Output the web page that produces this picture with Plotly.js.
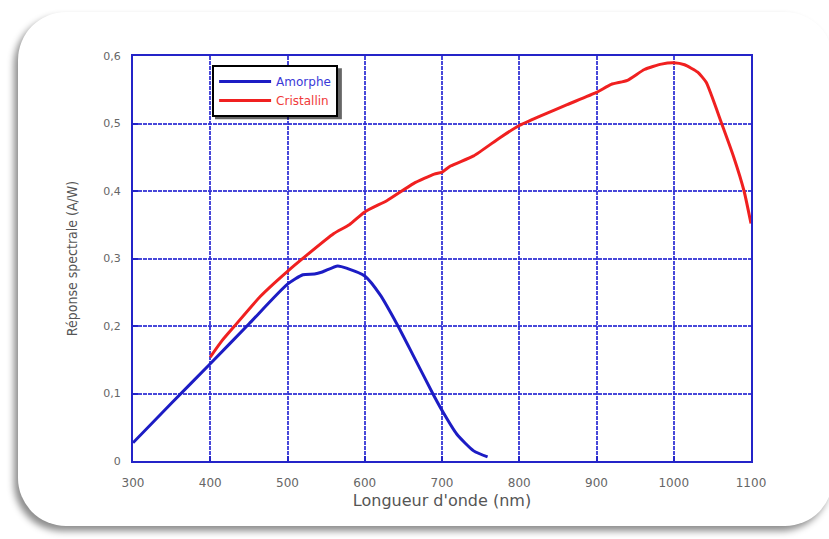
<!DOCTYPE html>
<html>
<head>
<meta charset="utf-8">
<script src="https://cdn.plot.ly/plotly-3.0.1.min.js"></script>
<style>
html,body{margin:0;padding:0;background:#ffffff;width:829px;height:539px;overflow:hidden;}
#card{position:absolute;left:18px;top:12px;width:815px;height:514px;background:#fff;border-radius:48px;box-shadow:-4px 5px 7px rgba(0,0,0,0.45);}
#chart{position:absolute;left:0;top:0;width:829px;height:539px;}
</style>
</head>
<body>
<div id="card"></div>
<div id="chart"></div>
<script>
const amorphX = [300, 350, 400, 450, 500, 520, 535, 545, 565, 578, 600, 620, 643, 662, 688, 700, 719, 741, 759];
const amorphY = [0.027, 0.086, 0.144, 0.203, 0.262, 0.276, 0.277, 0.280, 0.289, 0.285, 0.274, 0.246, 0.200, 0.158, 0.100, 0.075, 0.040, 0.015, 0.006];

const cristX = [400, 415, 430, 465, 500, 525, 560, 580, 600, 629, 663, 690, 700, 711, 741, 775, 800, 827, 862, 900, 919, 940, 962, 984, 1000, 1014, 1031, 1042, 1062, 1078, 1091, 1100];
const cristY = [0.154, 0.178, 0.198, 0.244, 0.281, 0.305, 0.337, 0.350, 0.369, 0.386, 0.411, 0.425, 0.428, 0.437, 0.452, 0.479, 0.497, 0.511, 0.528, 0.546, 0.558, 0.564, 0.580, 0.588, 0.590, 0.587, 0.576, 0.561, 0.500, 0.449, 0.400, 0.352];

const xTicks = [300, 400, 500, 600, 700, 800, 900, 1000, 1100];
const xTickText = ['300', '400', '500', '600', '700', '800', '900', '1000', '1100'];
const yTicks = [0, 0.1, 0.2, 0.3, 0.4, 0.5, 0.6];
const yTickText = ['0', '0,1', '0,2', '0,3', '0,4', '0,5', '0,6'];

const gridColor = 'rgba(40,40,210,0.85)';
const axisColor = '#2424c8';
const blue = '#1c1cc4';
const red = '#f02020';

const traces = [
  {x: amorphX, y: amorphY, name: '<span style="color:#3a3ad8">Amorphe</span>', type: 'scatter', mode: 'lines',
   line: {color: blue, width: 3, shape: 'spline', smoothing: 0.6}},
  {x: cristX, y: cristY, name: '<span style="color:#f03a3a">Cristallin</span>', type: 'scatter', mode: 'lines',
   line: {color: red, width: 3, shape: 'spline', smoothing: 0.5}}
];

const layout = {
  width: 829, height: 539,
  margin: {l: 133, r: 78, t: 56, b: 78},
  paper_bgcolor: 'rgba(0,0,0,0)',
  plot_bgcolor: 'rgba(0,0,0,0)',
  showlegend: true,
  legend: {
    x: 0.128, y: 0.978, xanchor: 'left', yanchor: 'top',
    bgcolor: '#ffffff', bordercolor: '#000000', borderwidth: 2,
    font: {family: 'DejaVu Sans, sans-serif', size: 12},
    itemwidth: 52, tracegroupgap: 0
  },
  shapes: [
    {type: 'rect', xref: 'paper', yref: 'paper', layer: 'above',
     x0: 0.1327, x1: 0.338, y0: 0.844, y1: 0.970,
     fillcolor: 'rgba(0,0,0,0.6)', line: {width: 0}}
  ],
  xaxis: {
    range: [300, 1100], tickvals: xTicks, ticktext: xTickText,
    showgrid: true, gridcolor: gridColor, gridwidth: 2, griddash: '4px,1px',
    showline: true, linecolor: axisColor, linewidth: 2, mirror: true,
    ticks: 'inside', ticklen: 5, tickwidth: 2, tickcolor: axisColor,
    ticklabelstandoff: 10,
    zeroline: false, tickfont: {family: 'DejaVu Sans, sans-serif', size: 12, color: '#666'},
    title: {text: "Longueur d'onde (nm)", font: {family: 'DejaVu Sans, sans-serif', size: 16, color: '#555'}, standoff: 5}
  },
  yaxis: {
    range: [0, 0.6], tickvals: yTicks, ticktext: yTickText,
    showgrid: true, gridcolor: gridColor, gridwidth: 2, griddash: '4px,1px',
    showline: true, linecolor: axisColor, linewidth: 2, mirror: true,
    ticks: 'inside', ticklen: 5, tickwidth: 2, tickcolor: axisColor,
    ticklabelstandoff: 8,
    zeroline: false, tickfont: {family: 'DejaVu Sans, sans-serif', size: 11, color: '#666'},
    title: {text: 'Réponse spectrale (A/W)', font: {family: 'DejaVu Sans Condensed, Liberation Sans, sans-serif', size: 14, color: '#555'}, standoff: 22}
  }
};

Plotly.newPlot('chart', traces, layout, {displayModeBar: false, staticPlot: true});
</script>
</body>
</html>
